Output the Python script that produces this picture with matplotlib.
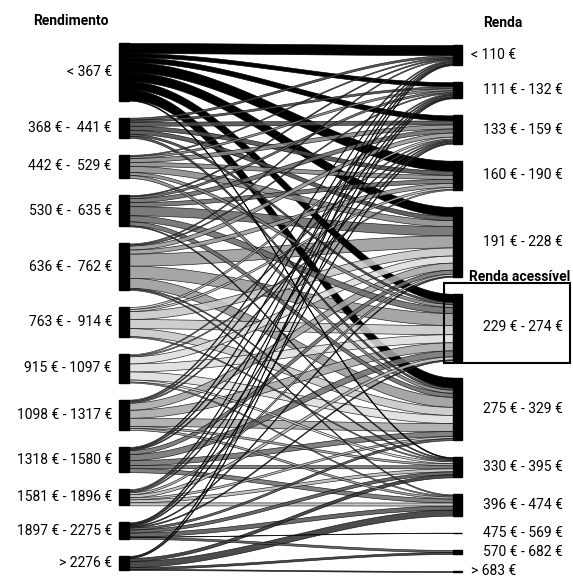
import matplotlib.pyplot as plt
from matplotlib.patches import Rectangle
import numpy as np

plt.rcParams['font.family'] = ['Roboto', 'DejaVu Sans']

# income bands (left) and rent bands (right)
income = ['< 367 €', '368 € -  441 €', '442 € -  529 €', '530 € -  635 €',
          '636 € -  762 €', '763 € -  914 €', '915 € - 1097 €', '1098 € - 1317 €',
          '1318 € - 1580 €', '1581 € - 1896 €', '1897 € - 2275 €', '> 2276 €']
rent = ['< 110 €', '111 € - 132 €', '133 € - 159 €', '160 € - 190 €',
        '191 € - 228 €', '229 € - 274 €', '275 € - 329 €', '330 € - 395 €',
        '396 € - 474 €', '475 € - 569 €', '570 € - 682 €', '> 683 €']

# flows from each income band into the rent bands (rent order)
f_367 = [10, 4, 5, 10, 9, 8, 10, 1, 0, 0, 0, 0]
f_441 = [2, 2, 4, 4, 4, 2, 2, 0, 0, 0, 0, 0]
f_529 = [1, 2, 4, 4, 6, 3, 3, 0, 0, 0, 0, 0]
f_635 = [1, 2, 4, 4, 9, 6, 4, 1, 0, 0, 0, 0]
f_762 = [1, 1, 4, 4, 12, 12, 10, 1, 1, 0, 0, 0]
f_914 = [0, 0, 2, 2, 8, 9, 8, 1, 0, 0, 0, 0]
f_1097 = [0, 0, 1, 1, 7, 8, 8, 2, 1, 0, 0, 0]
f_1317 = [1, 1, 1, 0, 7, 8, 8, 2, 2, 0, 0, 0]
f_1580 = [1, 1, 1, 0, 4, 6, 5, 3, 4, 0, 0, 0]
f_1896 = [1, 1, 1, 0, 2, 3, 2, 3, 3, 0, 0, 0]
f_2275 = [1, 1, 1, 0, 1, 1, 2, 3, 4, 0.3, 2, 0]
f_2276 = [1, 1, 0, 0, 0, 0, 0, 3, 6, 0, 2, 1]

greys = ['#000000', '#4a4a4a', '#8a8a8a', '#6a6a6a', '#9a9a9a', '#c8c8c8',
         '#dedede', '#a8a8a8', '#707070', '#bdbdbd', '#555555', '#333333']

flows = np.array([f_367, f_441, f_529, f_635, f_762, f_914, f_1097,
                  f_1317, f_1580, f_1896, f_2275, f_2276], dtype=float)
left_tot = flows.sum(axis=1)
right_tot = flows.sum(axis=0)

fig = plt.figure(figsize=(5.73, 5.78), dpi=100)
ax = fig.add_axes([0, 0, 1, 1])
ax.set_xlim(0, 573)
ax.set_ylim(578, 0)
ax.axis('off')

gap = 17
scale = (527 - gap * 11) / left_tot.sum()


def stack(totals, top):
    tops = []
    y = top
    for t in totals:
        tops.append(y)
        y += t * scale + gap
    return np.array(tops)


left_top = stack(left_tot, 43)
right_top = stack(right_tot, 45)

x0, x1 = 129, 453
t = np.linspace(0, 1, 120)
xs = x0 + (x1 - x0) * t
ease = 3 * t ** 2 - 2 * t ** 3

src_off = left_top.copy()
dst_off = right_top.copy()
bands = []
for i in range(len(income)):
    for j in range(len(rent)):
        v = flows[i, j]
        if v <= 0:
            continue
        h = v * scale
        bands.append((h, i, src_off[i], dst_off[j]))
        src_off[i] += h
        dst_off[j] += h

# big bands first so the thin ones stay visible
for h, i, ys, yt in sorted(bands, key=lambda b: -b[0]):
    yc = ys + (yt - ys) * ease
    ax.fill_between(xs, yc, yc + h, facecolor=greys[i],
                    alpha=1.0 if i == 0 else 0.88,
                    edgecolor='black', linewidth=0.45)

for i, lab in enumerate(income):
    h = left_tot[i] * scale
    ax.add_patch(Rectangle((119, left_top[i]), 10, h, color='black'))
    ax.text(112, left_top[i] + h / 2, lab, ha='right', va='center', fontsize=10)

for j, lab in enumerate(rent):
    h = right_tot[j] * scale
    ax.add_patch(Rectangle((453, right_top[j]), 9, h, color='black'))
    lx = 471 if lab[0] in '<>' else 483
    ax.text(lx, right_top[j] + h / 2, lab, ha='left', va='center', fontsize=10)

bold = ['Liberation Sans Narrow', 'Roboto', 'DejaVu Sans']
ax.text(71, 21, 'Rendimento', ha='center', va='center', fontsize=10,
        fontweight='bold', family=bold)
ax.text(503, 23, 'Renda', ha='center', va='center', fontsize=10,
        fontweight='bold', family=bold)
ax.text(520, 277, 'Renda acessível', ha='center', va='center', fontsize=10,
        fontweight='bold', family=bold)
ax.add_patch(Rectangle((444, 283), 126, 80, fill=False, edgecolor='black',
                       linewidth=1.5))

fig.savefig('out.png', dpi=100)
